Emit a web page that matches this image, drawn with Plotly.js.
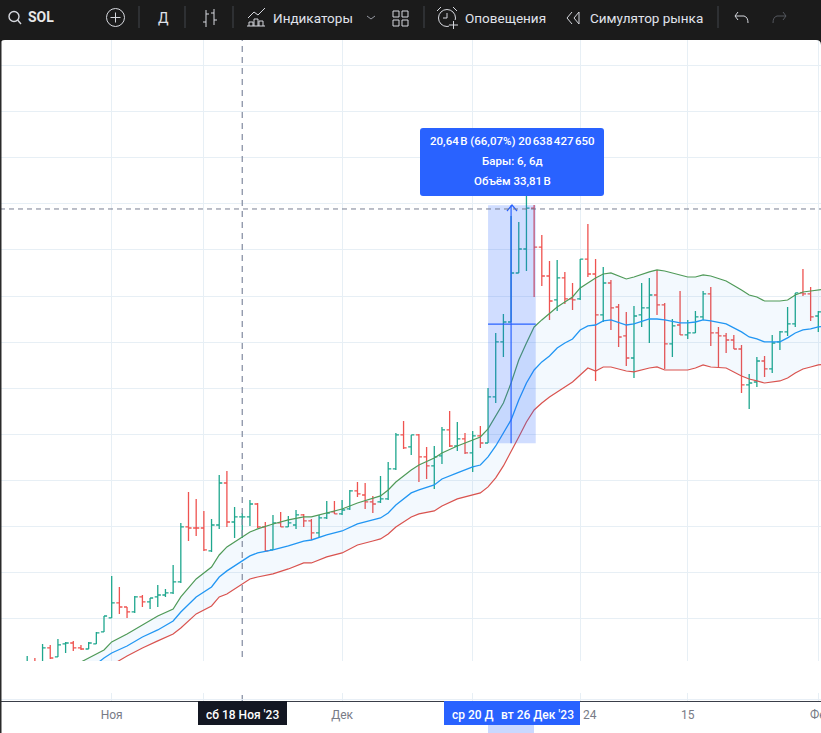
<!DOCTYPE html>
<html><head><meta charset="utf-8">
<script src="https://cdn.plot.ly/plotly-3.0.1.min.js"></script>
<style>html,body{margin:0;padding:0;background:#fff;overflow:hidden}</style></head>
<body><div id="chart" style="width:821px;height:733px"></div>
<script>
const dates = [
"2023-10-21","2023-10-22","2023-10-23","2023-10-24","2023-10-25","2023-10-26","2023-10-27","2023-10-28","2023-10-29","2023-10-30","2023-10-31",
"2023-11-01","2023-11-02","2023-11-03","2023-11-04","2023-11-05","2023-11-06","2023-11-07","2023-11-08","2023-11-09","2023-11-10",
"2023-11-11","2023-11-12","2023-11-13","2023-11-14","2023-11-15","2023-11-16","2023-11-17","2023-11-18","2023-11-19","2023-11-20",
"2023-11-21","2023-11-22","2023-11-23","2023-11-24","2023-11-25","2023-11-26","2023-11-27","2023-11-28","2023-11-29","2023-11-30",
"2023-12-01","2023-12-02","2023-12-03","2023-12-04","2023-12-05","2023-12-06","2023-12-07","2023-12-08","2023-12-09","2023-12-10",
"2023-12-11","2023-12-12","2023-12-13","2023-12-14","2023-12-15","2023-12-16","2023-12-17","2023-12-18","2023-12-19","2023-12-20",
"2023-12-21","2023-12-22","2023-12-23","2023-12-24","2023-12-25","2023-12-26","2023-12-27","2023-12-28","2023-12-29","2023-12-30","2023-12-31",
"2024-01-01","2024-01-02","2024-01-03","2024-01-04","2024-01-05","2024-01-06","2024-01-07","2024-01-08","2024-01-09","2024-01-10",
"2024-01-11","2024-01-12","2024-01-13","2024-01-14","2024-01-15","2024-01-16","2024-01-17","2024-01-18","2024-01-19","2024-01-20",
"2024-01-21","2024-01-22","2024-01-23","2024-01-24","2024-01-25","2024-01-26","2024-01-27","2024-01-28","2024-01-29","2024-01-30","2024-01-31",
"2024-02-01"];
const opens = [11.75,12.27,12.27,13.49,12.71,13.84,13.92,13.49,13.40,13.84,14.88,
16.09,17.39,17.04,16.61,17.91,17.48,17.91,18.08,18.26,19.21,
23.98,23.89,23.89,21.90,24.15,27.79,24.41,24.85,24.85,25.97,
23.98,21.99,24.33,23.98,24.15,25.02,24.50,23.46,24.76,25.28,
25.11,25.54,27.10,26.75,26.15,26.15,26.41,29.01,31.96,30.92,
31.96,30.05,29.27,30.14,32.39,31.00,31.61,30.40,31.87,31.26,
35.25,40.02,41.75,46.00,48.08,51.63,48.25,45.74,43.66,45.57,43.75,
43.75,47.21,45.91,42.36,45.13,43.05,40.54,38.63,42.36,42.97,
44.09,43.23,39.85,41.49,40.63,40.80,42.19,44.18,40.80,40.54,
40.19,39.41,36.29,36.55,38.37,37.68,40.02,40.89,41.58,44.27,44.18,
42.27];
const highs = [12.79,12.62,13.84,13.75,14.27,14.01,14.10,13.75,14.01,14.88,16.26,
19.73,18.78,17.04,18.00,18.08,17.82,18.95,18.60,20.69,24.33,
27.01,26.41,25.37,24.67,28.49,28.83,25.71,25.19,26.32,26.06,
24.41,25.02,25.28,24.93,25.45,25.11,24.67,25.02,26.23,26.23,
26.32,27.19,27.88,27.79,26.67,28.40,29.61,32.13,33.17,31.96,
32.04,30.92,31.00,32.65,34.03,33.08,32.13,32.30,32.74,36.03,
40.80,42.45,50.94,50.42,52.67,51.89,49.29,47.04,47.13,46.09,45.13,
47.21,50.25,47.21,46.52,45.39,43.31,42.62,43.14,45.13,45.57,
46.26,43.40,42.01,44.44,41.93,42.71,44.44,44.79,41.32,40.80,
40.63,39.76,37.24,38.72,38.81,40.63,40.97,43.05,44.27,46.35,44.79,
42.71];
const lows = [11.58,11.75,12.01,12.53,12.71,13.05,13.23,13.32,13.40,13.84,14.88,
16.09,16.44,16.09,16.52,17.04,16.87,17.04,17.91,18.17,19.12,
22.76,23.20,21.90,21.81,23.81,23.98,23.02,23.02,24.07,23.89,
21.90,21.99,23.98,23.98,23.81,23.98,22.85,23.11,24.67,25.11,
25.02,25.45,26.58,25.54,25.19,26.06,26.32,28.92,30.74,30.22,
27.88,28.14,27.27,29.44,30.92,30.57,30.31,28.75,30.83,31.26,
34.73,38.72,41.75,46.00,46.17,43.92,44.87,41.93,42.71,43.31,42.79,
43.66,45.65,36.64,41.75,41.06,39.58,37.94,36.90,41.32,39.93,
42.36,37.68,38.72,40.63,40.28,40.80,41.93,39.67,37.76,39.07,
39.41,35.60,34.21,36.12,36.98,37.33,39.33,40.54,41.32,44.01,41.84,
40.89];
const closes = [12.27,12.01,13.49,12.62,13.75,13.92,13.49,13.40,13.92,14.79,16.26,
17.39,17.04,16.61,17.91,17.48,17.82,18.08,18.26,19.21,23.98,
23.89,23.89,21.99,24.15,27.79,24.41,24.85,24.85,25.97,23.98,
21.90,24.33,23.98,24.33,25.02,24.50,23.46,24.76,25.19,25.11,
25.45,27.10,26.84,26.15,25.97,26.41,29.01,31.96,30.83,31.96,
30.05,29.27,30.05,32.39,31.00,31.61,30.40,31.87,31.26,35.25,
40.02,41.75,46.00,48.08,51.63,48.25,45.74,43.57,45.57,43.75,43.66,
47.21,45.91,42.36,45.13,42.97,40.45,38.63,42.27,42.97,44.09,
43.23,39.85,41.41,40.63,40.80,42.19,44.18,40.80,40.54,40.19,
39.41,36.29,36.46,38.37,37.68,39.93,40.89,41.58,44.27,44.18,42.19,
42.62];
const bandDates = ["2023-10-27","2023-10-29","2023-10-31","2023-11-01","2023-11-03","2023-11-05","2023-11-07","2023-11-09","2023-11-10","2023-11-12",
"2023-11-14","2023-11-15","2023-11-16","2023-11-18","2023-11-19","2023-11-20","2023-11-22","2023-11-24","2023-11-26","2023-11-27",
"2023-11-29","2023-12-01","2023-12-03","2023-12-05","2023-12-06","2023-12-07","2023-12-08","2023-12-10","2023-12-11","2023-12-13",
"2023-12-14","2023-12-16","2023-12-18","2023-12-19","2023-12-20","2023-12-21","2023-12-22","2023-12-23","2023-12-24","2023-12-25",
"2023-12-26","2023-12-27","2023-12-28","2023-12-29","2023-12-30","2023-12-31","2024-01-01","2024-01-02","2024-01-03","2024-01-04",
"2024-01-05","2024-01-07","2024-01-08","2024-01-10","2024-01-11","2024-01-12","2024-01-14","2024-01-15","2024-01-16","2024-01-17",
"2024-01-18","2024-01-20","2024-01-22","2024-01-23","2024-01-24","2024-01-25","2024-01-27","2024-01-28","2024-01-29","2024-01-30",
"2024-01-31","2024-02-01","2024-02-02"];
const upperBand = [11.93,12.62,13.32,14.01,14.70,15.48,16.26,16.87,17.91,19.47,
20.51,21.55,22.25,23.11,23.55,23.81,24.24,24.59,24.85,24.85,
25.19,25.54,26.06,26.49,26.67,27.19,27.88,28.92,29.35,29.96,
30.40,31.00,31.52,31.78,32.48,33.60,34.73,36.46,38.46,39.93,
41.32,41.93,42.53,43.05,43.49,43.92,44.70,45.13,45.57,45.91,
46.00,45.48,45.65,46.09,46.26,46.17,45.83,45.65,45.65,45.83,
45.74,45.31,44.53,44.09,43.92,43.57,43.57,43.66,44.09,44.35,
44.44,44.53,44.61];
const middleBand = [10.89,11.58,12.62,13.05,13.66,14.44,15.05,15.83,16.61,17.91,
18.78,19.64,20.17,21.03,21.47,21.73,21.99,22.33,22.76,22.85,
23.29,23.63,24.24,24.59,24.76,25.19,25.89,26.93,27.19,27.62,
28.14,28.66,29.18,29.35,30.05,31.00,32.13,33.26,34.99,36.46,
37.59,38.29,38.81,39.50,39.93,40.28,41.06,41.41,41.49,41.84,
41.93,41.49,41.58,42.01,42.01,41.93,41.67,41.67,41.75,41.93,
41.84,41.58,40.89,40.45,40.28,40.02,40.02,40.37,40.80,41.06,
41.15,41.32,41.41];
const lowerBand = [9.85,10.54,11.75,12.01,12.79,13.49,14.10,14.70,15.22,16.44,
17.13,17.91,18.17,19.04,19.47,19.64,19.91,20.34,20.86,20.86,
21.38,21.73,22.42,22.76,22.94,23.37,23.98,24.85,25.11,25.37,
25.80,26.41,26.75,26.93,27.45,28.23,29.27,30.48,31.78,33.08,
34.12,34.73,35.25,35.68,36.12,36.55,37.16,37.76,37.50,37.85,
37.85,37.50,37.42,37.76,37.85,37.59,37.59,37.59,37.76,38.03,
37.85,37.76,37.07,36.81,36.64,36.46,36.64,36.90,37.33,37.68,
37.85,38.03,38.11];
const tickDates = ["2023-11-01","2023-11-13","2023-12-01","2023-12-18","2024-01-01","2024-01-15","2024-02-01"];
const tickLabels = ["Ноя","","Дек","","","15",""];
const rulerStart = "2023-12-20", rulerEnd = "2023-12-26 05:00", rulerMid = "2023-12-23";
const rulerLow = 31.24, rulerHigh = 51.88, rulerHalf = 41.56, crossPrice = 51.55, crossDate = "2023-11-18";

const W = 821, PT = 40, PB = 701, H = PB - PT;
const px = x => x / W, py = y => (PB - y) / H;
const FONT = 'Roboto, "Noto Sans", sans-serif';
const shapes = [], annotations = [];
const rect = (x0,y0,x1,y1,fill) => shapes.push({type:'rect',xref:'paper',yref:'paper',x0:px(x0),x1:px(x1),y0:py(y0),y1:py(y1),fillcolor:fill,line:{width:0},layer:'above'});
const seg = (x0,y0,x1,y1,c,w,dash) => shapes.push({type:'line',xref:'paper',yref:'paper',x0:px(x0),x1:px(x1),y0:py(y0),y1:py(y1),line:{color:c,width:w||1,dash:dash||'solid'},layer:'above'});
const ring = (cx,cy,r,c,w) => shapes.push({type:'circle',xref:'paper',yref:'paper',x0:px(cx-r),x1:px(cx+r),y0:py(cy+r),y1:py(cy-r),line:{color:c,width:w||1},layer:'above'});
const path = (pts,c,w,fill) => shapes.push({type:'path',xref:'paper',yref:'paper',path:pts.map(p=>typeof p==='string'?p:`${px(p[0])},${py(p[1])}`).join(' ').replace(/([MLQ]) /g,'$1'),line:{color:c||'rgba(0,0,0,0)',width:w===undefined?1:w},fillcolor:fill||'rgba(0,0,0,0)',layer:'above'});
const text = (x,y,t,o) => annotations.push(Object.assign({xref:'paper',yref:'paper',x:px(x),y:py(y),text:t,showarrow:false,xanchor:'left',yanchor:'middle',font:{family:FONT,size:13,color:'#e0e3eb'},borderpad:0},o||{}));

// ruler highlight + crosshair (data coordinates)
shapes.push({type:'rect',xref:'x',yref:'y',x0:rulerStart,x1:rulerEnd,y0:rulerLow,y1:rulerHigh,fillcolor:'rgba(41,98,255,0.22)',line:{width:0},layer:'above'});
shapes.push({type:'line',xref:'x',yref:'y',x0:rulerMid,x1:rulerMid,y0:rulerLow,y1:rulerHigh,line:{color:'#2962ff',width:1.2},layer:'above'});
shapes.push({type:'line',xref:'x',yref:'y',x0:rulerStart,x1:rulerEnd,y0:rulerHalf,y1:rulerHalf,line:{color:'#2962ff',width:1.2},layer:'above'});
path(['M',[507,211],'L',[512,205],'L',[517,211]],'#2962ff',1.2);
shapes.push({type:'line',xref:'paper',yref:'y',x0:0,x1:1,y0:crossPrice,y1:crossPrice,line:{color:'#6a7184',width:0.9,dash:'5px,4px'},layer:'above'});
shapes.push({type:'line',xref:'x',yref:'paper',x0:crossDate,x1:crossDate,y0:0,y1:1,line:{color:'#8a93a6',width:1.3,dash:'6px,5px'},layer:'above'});

// blank strip hiding the lower part of the pane
rect(0,661,W,693,'#ffffff');
seg(0,699.6,W,699.6,'#e6eef5',1);

// tooltip
path(['M',[423,128],'L',[601,128],'Q',[604,128],[604,131],'L',[604,193],'Q',[604,196],[601,196],'L',[423,196],'Q',[420,196],[420,193],'L',[420,131],'Q',[420,128],[423,128],'Z'],'rgba(0,0,0,0)',0,'#2962ff');
const tipFont = {family:FONT,size:11.5,color:'#ffffff',weight:500};
text(512,141,'20,64\u202FB (66,07%) 20\u202F638\u202F427\u202F650',{xanchor:'center',font:tipFont});
text(512,161,'Бары: 6, 6д',{xanchor:'center',font:tipFont});
text(512,181,'Объём 33,81\u202FB',{xanchor:'center',font:tipFont});

// time axis labels
const axisFont = {family:FONT,size:12,color:'#787b86'};
const labelFont = {family:FONT,size:12,color:'#ffffff',weight:500};
text(582,715,'24',{font:axisFont});
text(809,715,'Фев',{font:axisFont});
rect(198,701,287,725,'#131722');
text(242.5,715,"сб 18 Ноя '23",{xanchor:'center',font:labelFont});
rect(488,725,534,733,'rgba(41,98,255,0.25)');
rect(444,701,580,725,'#2962ff');
text(451,715,"ср 20 Д",{font:labelFont});
text(500,715,"вт 26 Дек '23",{font:labelFont});

// frame and toolbar
rect(0,0,W,40,'#1b1b1b');
rect(0,40,1.5,733,'#2a2a2a');
path(['M',[0,40],'L',[5,40],'Q',[0,40],[0,45],'Z'],'rgba(0,0,0,0)',0,'#1b1b1b');
path(['M',[821,40],'L',[816,40],'Q',[821,40],[821,45],'Z'],'rgba(0,0,0,0)',0,'#1b1b1b');
const IC = '#d6d8de', SEP = '#43464d';
[139,185,233,424,718].forEach(x => seg(x,6,x,28,SEP,1));
ring(14,16.5,5,IC,1.4); seg(17.6,20,21,24,IC,1.4);
text(27,17.5,'SOL',{font:{family:FONT,size:14,color:'#e8e8e8',weight:700}});
ring(115.5,17.5,9,IC,1); seg(115.5,12.5,115.5,22.5,IC,1); seg(110.5,17.5,120.5,17.5,IC,1);
text(163,18,'Д',{xanchor:'center',font:{family:FONT,size:14,color:'#e0e3eb'}});
seg(206,10,206,27,IC,1); seg(203,22,206,22,IC,1); seg(206,14,209,14,IC,1);
seg(214,9,214,25,IC,1); seg(211,13,214,13,IC,1); seg(214,20,217,20,IC,1);
path(['M',[248,18],'L',[254,12],'L',[258,15],'L',[265,8]],IC,1);
[[249,22],[254,19],[259,21]].forEach(b => path(['M',[b[0],26],'L',[b[0],b[1]],'L',[b[0]+4,b[1]],'L',[b[0]+4,26]],IC,1));
seg(247,26,265,26,IC,1);
text(272,18,'Индикаторы',{font:{family:FONT,size:13.5,color:'#e0e3eb'}});
path(['M',[367,16],'L',[371,19],'L',[375,16]],'#9598a1',1);
[[393,11],[402,11],[393,20],[402,20]].forEach(b => path(['M',[b[0],b[1]],'L',[b[0]+6,b[1]],'L',[b[0]+6,b[1]+6],'L',[b[0],b[1]+6],'Z'],IC,1));
ring(447,18,8.5,IC,1); seg(447,13,447,18,IC,1); seg(447,18,443,18,IC,1);
seg(437,11,441,7,IC,1); seg(453,7,457,11,IC,1);
rect(449,20,458,29,'#1b1b1b'); seg(453.5,21,453.5,29,IC,1); seg(449,25,458,25,IC,1);
text(464,18,'Оповещения',{font:{family:FONT,size:13.5,color:'#e0e3eb'}});
path(['M',[572,12],'L',[567,18],'L',[572,24]],IC,1); path(['M',[579,12],'L',[574,18],'L',[579,24],'Z'],IC,1);
text(589,18,'Симулятор рынка',{font:{family:FONT,size:13.5,color:'#e0e3eb'}});
path(['M',[738,12],'L',[735,16],'L',[738,20]],IC,1); path(['M',[735,16],'L',[744,16],'Q',[748,17],[748,23]],IC,1);
path(['M',[783,12],'L',[786,16],'L',[783,20]],'#55585f',1); path(['M',[786,16],'L',[777,16],'Q',[773,17],[773,23]],'#55585f',1);

const traces = [
  {type:'scatter',mode:'lines',x:bandDates,y:upperBand,line:{color:'#4f9a58',width:1.2},hoverinfo:'skip',showlegend:false},
  {type:'scatter',mode:'lines',x:bandDates,y:lowerBand,line:{color:'#d9534f',width:1.2},fill:'tonexty',fillcolor:'rgba(33,150,243,0.055)',hoverinfo:'skip',showlegend:false},
  {type:'scatter',mode:'lines',x:bandDates,y:middleBand,line:{color:'#2196f3',width:1.3},hoverinfo:'skip',showlegend:false},
  {type:'ohlc',x:dates,open:opens,high:highs,low:lows,close:closes,tickwidth:0.4,
   increasing:{line:{color:'#1fa78e',width:1.3}},decreasing:{line:{color:'#ef5350',width:1.3}},hoverinfo:'skip',showlegend:false}
];
const layout = {
  width:W,height:733,margin:{l:0,r:0,t:PT,b:733-PB,pad:0},autosize:false,
  paper_bgcolor:'#ffffff',plot_bgcolor:'#ffffff',showlegend:false,dragmode:false,
  xaxis:{type:'date',range:['2023-10-17 11:00','2024-02-01 08:24'],rangeslider:{visible:false},
    tickmode:'array',tickvals:tickDates,ticktext:tickLabels,showgrid:true,gridcolor:'#e7eff5',gridwidth:1.2,zeroline:false,
    showline:true,linecolor:'#3a3e48',linewidth:1,ticks:'outside',ticklen:3,tickcolor:'rgba(0,0,0,0)',
    tickfont:axisFont,automargin:false},
  yaxis:{range:[8.89,66.20],tick0:0,dtick:4,showgrid:true,gridcolor:'#e7eff5',gridwidth:1,zeroline:false,
    showticklabels:false,ticks:'',showline:false,automargin:false},
  shapes,annotations
};
Plotly.newPlot('chart',traces,layout,{displayModeBar:false,staticPlot:true});
</script></body></html>
